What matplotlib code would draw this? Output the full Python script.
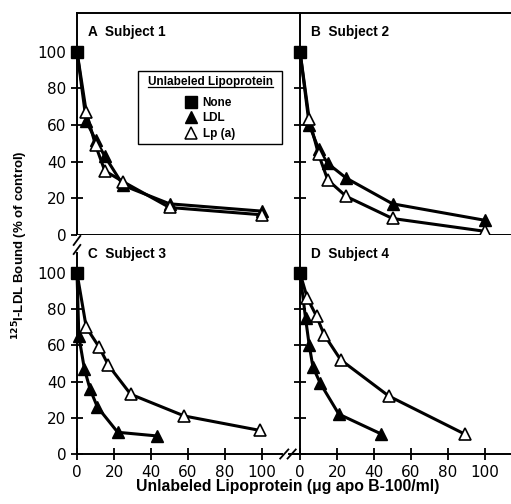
import matplotlib
matplotlib.use("Agg")
import matplotlib.pyplot as plt
from matplotlib.lines import Line2D
from matplotlib.patches import Rectangle

# ---- data ----
none_x = [0]
none_y = [100]

subj1_ldl_x = [5, 10, 15, 25, 50, 100]
subj1_ldl_y = [62, 52, 43, 27, 17, 13]
subj1_lpa_x = [5, 10, 15, 25, 50, 100]
subj1_lpa_y = [67, 49, 35, 29, 15, 11]

subj2_ldl_x = [5, 10, 15, 25, 50, 100]
subj2_ldl_y = [60, 47, 39, 31, 17, 8]
subj2_lpa_x = [5, 10, 15, 25, 50, 100]
subj2_lpa_y = [63, 44, 30, 21, 9, 2]

subj3_ldl_x = [1, 4, 7, 11, 22, 43]
subj3_ldl_y = [65, 47, 36, 26, 12, 10]
subj3_lpa_x = [5, 12, 17, 29, 58, 99]
subj3_lpa_y = [70, 59, 49, 33, 21, 13]

subj4_ldl_x = [3, 5, 7, 11, 21, 44]
subj4_ldl_y = [75, 60, 48, 39, 22, 11]
subj4_lpa_x = [4, 9, 13, 22, 48, 89]
subj4_lpa_y = [86, 76, 66, 52, 32, 11]

panels = [
    ("A  Subject 1", subj1_ldl_x, subj1_ldl_y, subj1_lpa_x, subj1_lpa_y),
    ("B  Subject 2", subj2_ldl_x, subj2_ldl_y, subj2_lpa_x, subj2_lpa_y),
    ("C  Subject 3", subj3_ldl_x, subj3_ldl_y, subj3_lpa_x, subj3_lpa_y),
    ("D  Subject 4", subj4_ldl_x, subj4_ldl_y, subj4_lpa_x, subj4_lpa_y),
]
yticks = [0, 20, 40, 60, 80, 100]
xticks = [0, 20, 40, 60, 80, 100]

plt.rcParams['font.family'] = ['Liberation Sans', 'DejaVu Sans']

fig = plt.figure(figsize=(5.11, 5.04), dpi=100)

W, H = 511.0, 504.0
lefts = [77 / W, 300 / W]
widths = [223 / W, 211 / W]
bottoms = [1 - 235 / H, 1 - 454 / H]
heights = [222 / H, 219 / H]
xmaxes = [120.5, 114]

axes = []
for i, (label, lx, ly, px, py) in enumerate(panels):
    row, col = divmod(i, 2)
    ax = fig.add_axes([lefts[col], bottoms[row], widths[col], heights[row]])
    axes.append(ax)
    ax.set_xlim(0, xmaxes[col])
    ax.set_ylim(0, 121)

    lw = 2.2
    ax.plot([0] + lx, [100] + ly, color='black', lw=lw, zorder=2, clip_on=False)
    ax.plot([0] + px, [100] + py, color='black', lw=lw, zorder=2, clip_on=False)
    ax.plot(lx, ly, linestyle='none', marker='^', ms=8.5, mfc='black', mec='black',
            zorder=3, clip_on=False)
    ax.plot(px, py, linestyle='none', marker='^', ms=8.5, mfc='white', mec='black',
            mew=1.2, zorder=3, clip_on=False)
    ax.plot(none_x, none_y, linestyle='none', marker='s', ms=9, mfc='black', mec='black',
            zorder=4, clip_on=False)

    ax.text(0.05, 0.915, label, transform=ax.transAxes, fontsize=9.8,
            fontweight='bold', ha='left', va='center')

    for s in ax.spines.values():
        s.set_linewidth(1.4)
    ax.spines['right'].set_visible(False)
    if row == 1:
        ax.spines['top'].set_visible(False)

    ax.set_yticks(yticks)
    ax.tick_params(axis='y', direction='inout', length=8, width=1.3)
    if col == 0:
        ax.set_yticklabels([str(t) for t in yticks], fontsize=11, family='DejaVu Sans')
    else:
        ax.set_yticklabels([])

    if row == 0:
        ax.set_xticks([])
    else:
        ax.set_xticks(xticks)
        ax.set_xticklabels([str(t) for t in xticks], fontsize=11, family='DejaVu Sans')
        ax.tick_params(axis='x', direction='inout', length=8, width=1.3, pad=4)

# axis breaks
axC, axD = axes[2], axes[3]
axC.spines['left'].set_bounds(0, 111)
axC.spines['bottom'].set_bounds(0, 111)
axD.spines['bottom'].set_bounds(-6, 114)
for yb in (113, 118):
    axC.plot([-1.8, 1.8], [yb - 2.5, yb + 2.5], color='black', lw=1.3, clip_on=False)
for xb in (112, 116):
    axC.plot([xb - 2.2, xb + 2.2], [-2.5, 2.5], color='black', lw=1.3, clip_on=False)

# legend in panel A (frame drawn separately so entries stay centred)
axA = axes[0]
axA.add_patch(Rectangle((0.274, 0.41), 0.645, 0.329, transform=axA.transAxes,
                        fill=False, edgecolor='black', lw=1.0, zorder=5))
handles = [
    Line2D([], [], linestyle='none', marker='s', ms=8, mfc='black', mec='black'),
    Line2D([], [], linestyle='none', marker='^', ms=8.5, mfc='black', mec='black'),
    Line2D([], [], linestyle='none', marker='^', ms=8.5, mfc='white', mec='black', mew=1.1),
]
leg = axA.legend(handles, ['None', 'LDL', 'Lp (a)'],
                 title='Unlabeled Lipoprotein',
                 loc='upper center', bbox_to_anchor=(0.5965, 0.73),
                 frameon=False, alignment='center',
                 prop={'weight': 'bold', 'size': 8.5}, title_fontsize=8.5,
                 handletextpad=0.5, labelspacing=0.3, borderpad=0.3,
                 handlelength=1.0, borderaxespad=0)
leg.get_title().set_fontweight('bold')
leg._legend_box.sep = 6

fig.text(20 / W, 1 - 245 / H, r'$\mathbf{^{125}}$I-LDL Bound (% of control)',
         rotation=90, ha='center', va='center', fontsize=9.5, fontweight='bold')
fig.text(288 / W, 1 - 487 / H, 'Unlabeled Lipoprotein (\u03bcg apo B-100/ml)',
         ha='center', va='center', fontsize=11.3, fontweight='bold')

# underline the legend title
fig.canvas.draw()
bb = leg.get_title().get_window_extent().transformed(fig.transFigure.inverted())
fig.add_artist(Line2D([bb.x0, bb.x1], [bb.y0 + 0.002, bb.y0 + 0.002],
                      transform=fig.transFigure, color='black', lw=0.9))

fig.savefig('out.png', dpi=100)
